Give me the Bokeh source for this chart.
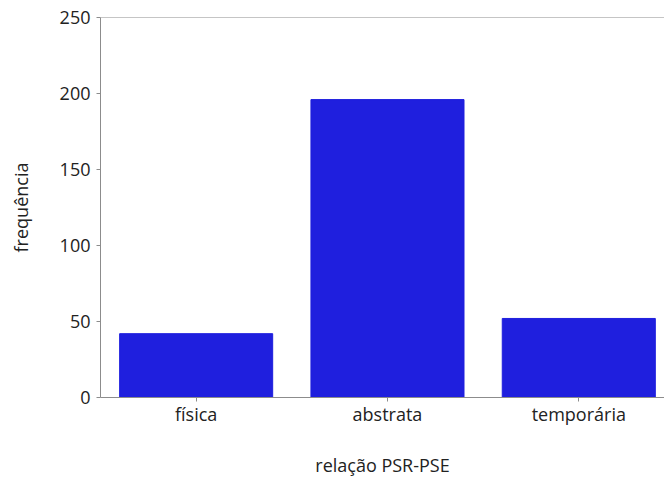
from bokeh.plotting import figure
from bokeh.models import Range1d, FixedTicker, Span
from bokeh.embed import file_html
from bokeh.resources import INLINE

categories = ["física", "abstrata", "temporária"]
counts = [42, 196, 52]
y_ticks = [0, 50, 100, 150, 200, 250]

xs = [i + 0.5 for i in range(len(categories))]

FONT = "Open Sans"
GRAY = "#8c8c8c"
TXT = "#222222"

p = figure(width=664, height=479, output_backend="svg", toolbar_location=None,
           x_range=Range1d(0, 2.948), y_range=Range1d(0, 250),
           min_border_left=100, min_border_right=0, min_border_top=17, min_border_bottom=0)

p.vbar(x=xs, top=counts, width=0.8, fill_color="#1f1fde", line_color="#1f1fde")

p.xgrid.visible = False
p.ygrid.visible = False
p.outline_line_color = None

p.xaxis.ticker = FixedTicker(ticks=xs)
p.xaxis.major_label_overrides = {x: c for x, c in zip(xs, categories)}
p.yaxis.ticker = FixedTicker(ticks=y_ticks)

for ax in (p.xaxis[0], p.yaxis[0]):
    ax.axis_line_color = GRAY
    ax.major_tick_line_color = GRAY
    ax.major_tick_out = 4
    ax.major_tick_in = 0
    ax.minor_tick_line_color = None
    ax.major_label_text_font = FONT
    ax.major_label_text_font_size = "18px"
    ax.major_label_text_color = TXT
    ax.axis_label_text_font = FONT
    ax.axis_label_text_font_size = "18px"
    ax.axis_label_text_font_style = "normal"
    ax.axis_label_text_color = TXT

p.xaxis.axis_label = "relação PSR-PSE"
p.yaxis.axis_label = "frequência"
p.xaxis.major_label_standoff = 0
p.xaxis.axis_label_standoff = 24
p.yaxis.major_label_standoff = 6
p.yaxis.axis_label_standoff = 24

p.add_layout(Span(location=250, dimension="width", line_color=GRAY, line_width=1))

open("out.html", "w").write(file_html(p, INLINE))
